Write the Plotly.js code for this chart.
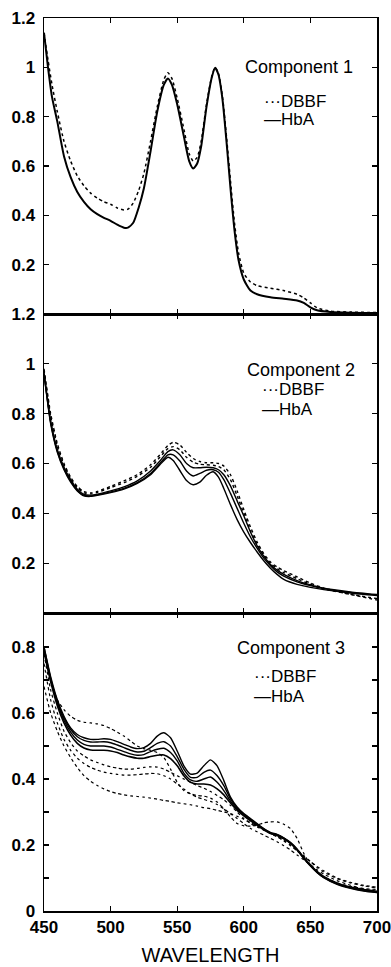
<!DOCTYPE html>
<html>
<head>
<meta charset="utf-8">
<script src="https://cdn.plot.ly/plotly-3.0.1.min.js"></script>
<style>html,body{margin:0;padding:0;background:#fff;}#chart{width:391px;height:967px;}</style>
</head>
<body>
<div id="chart"></div>
<script>
// ---------- Component 1 ----------
const wl1 = [450,453,456,460,465,470,475,480,485,490,495,500,505,510,513,517,521,525,530,535,540,543,546,550,555,559,562,565,568,572,576,578.5,581,584,587,590,593,596,600,605,610,620,630,640,645,650,655,665,680,700];
const c1_hba = [1.14,1.0,0.88,0.78,0.64,0.555,0.495,0.455,0.425,0.405,0.39,0.378,0.362,0.35,0.35,0.37,0.43,0.51,0.66,0.82,0.93,0.955,0.93,0.85,0.72,0.62,0.59,0.61,0.68,0.84,0.96,0.998,0.97,0.87,0.70,0.51,0.34,0.22,0.14,0.095,0.08,0.068,0.062,0.055,0.045,0.027,0.015,0.008,0.005,0.004];
const c1_dbbf = [1.14,1.03,0.93,0.82,0.70,0.62,0.56,0.52,0.49,0.47,0.455,0.445,0.43,0.422,0.425,0.45,0.5,0.57,0.7,0.84,0.95,0.978,0.955,0.875,0.75,0.65,0.62,0.635,0.70,0.85,0.965,1.0,0.975,0.88,0.72,0.54,0.37,0.25,0.165,0.13,0.115,0.105,0.095,0.08,0.065,0.045,0.025,0.012,0.008,0.006];

// ---------- Component 2 ----------
const wl2 = [450,455,460,465,470,475,480,485,490,500,510,520,530,537,543,547,552,557,562,567,572,577,581,585,590,595,600,605,610,615,620,625,630,640,650,660,680,700];
const c2_hba1 = [0.96,0.76,0.645,0.575,0.525,0.49,0.47,0.468,0.472,0.483,0.497,0.52,0.555,0.595,0.625,0.612,0.572,0.532,0.515,0.525,0.553,0.567,0.545,0.5,0.435,0.375,0.325,0.283,0.245,0.21,0.18,0.155,0.135,0.115,0.103,0.094,0.08,0.07];
const c2_hba2 = [0.96,0.765,0.65,0.58,0.53,0.492,0.472,0.47,0.474,0.486,0.5,0.523,0.56,0.6,0.635,0.635,0.61,0.57,0.55,0.56,0.573,0.575,0.565,0.535,0.48,0.42,0.36,0.305,0.26,0.22,0.19,0.165,0.148,0.125,0.11,0.098,0.083,0.072];
const c2_hba3 = [0.965,0.77,0.655,0.585,0.535,0.497,0.476,0.473,0.477,0.49,0.506,0.53,0.57,0.61,0.648,0.655,0.635,0.6,0.583,0.583,0.585,0.583,0.575,0.555,0.51,0.45,0.39,0.325,0.27,0.228,0.195,0.172,0.155,0.13,0.113,0.1,0.085,0.074];
const c2_dbbf1 = [0.98,0.8,0.68,0.6,0.545,0.508,0.487,0.482,0.488,0.508,0.53,0.555,0.595,0.635,0.672,0.685,0.675,0.645,0.62,0.608,0.603,0.603,0.6,0.59,0.555,0.49,0.415,0.345,0.285,0.238,0.205,0.185,0.17,0.145,0.12,0.1,0.075,0.052];
const c2_dbbf2 = [0.975,0.79,0.67,0.595,0.54,0.503,0.482,0.478,0.484,0.503,0.523,0.548,0.585,0.625,0.66,0.668,0.655,0.625,0.605,0.597,0.595,0.593,0.588,0.575,0.535,0.47,0.4,0.33,0.275,0.232,0.2,0.178,0.162,0.138,0.115,0.097,0.075,0.058];

// ---------- Component 3 ----------
const wl3 = [450,455,460,465,470,475,480,485,490,495,500,505,510,515,520,525,530,535,540,545,550,555,560,565,570,575,580,585,590,595,600,605,610,615,620,625,630,635,640,645,650,655,660,670,680,690,700];
const c3_hba1 = [0.8,0.71,0.64,0.59,0.555,0.535,0.525,0.52,0.52,0.522,0.52,0.513,0.505,0.497,0.492,0.495,0.508,0.53,0.54,0.525,0.485,0.44,0.415,0.418,0.44,0.458,0.44,0.395,0.345,0.315,0.295,0.28,0.265,0.25,0.238,0.232,0.222,0.208,0.188,0.163,0.14,0.12,0.105,0.085,0.073,0.065,0.06];
const c3_hba2 = [0.8,0.705,0.635,0.585,0.55,0.528,0.517,0.512,0.512,0.513,0.51,0.503,0.495,0.487,0.482,0.484,0.495,0.508,0.513,0.5,0.468,0.43,0.405,0.405,0.42,0.427,0.41,0.38,0.34,0.312,0.293,0.278,0.263,0.249,0.237,0.231,0.221,0.206,0.186,0.161,0.138,0.118,0.103,0.083,0.071,0.063,0.058];
const c3_hba3 = [0.79,0.7,0.63,0.578,0.542,0.518,0.505,0.5,0.5,0.5,0.497,0.49,0.483,0.476,0.472,0.474,0.483,0.49,0.493,0.48,0.455,0.418,0.397,0.393,0.4,0.406,0.39,0.365,0.333,0.308,0.29,0.275,0.261,0.247,0.236,0.23,0.22,0.206,0.186,0.16,0.137,0.117,0.102,0.082,0.07,0.062,0.057];
const c3_hba4 = [0.785,0.695,0.622,0.57,0.533,0.508,0.494,0.488,0.487,0.487,0.485,0.48,0.473,0.467,0.463,0.463,0.468,0.472,0.473,0.462,0.44,0.41,0.39,0.385,0.385,0.382,0.37,0.352,0.327,0.305,0.288,0.273,0.26,0.246,0.235,0.229,0.219,0.205,0.185,0.16,0.137,0.117,0.101,0.081,0.069,0.061,0.056];
const c3_dbbf1 = [0.8,0.7,0.64,0.61,0.59,0.578,0.572,0.57,0.567,0.562,0.553,0.542,0.53,0.515,0.5,0.492,0.487,0.48,0.465,0.43,0.39,0.365,0.355,0.35,0.348,0.342,0.33,0.31,0.285,0.265,0.258,0.257,0.26,0.267,0.27,0.27,0.263,0.25,0.22,0.175,0.14,0.118,0.103,0.085,0.075,0.068,0.065];
const c3_dbbf2 = [0.78,0.67,0.6,0.545,0.51,0.485,0.47,0.458,0.45,0.443,0.437,0.433,0.43,0.43,0.432,0.435,0.437,0.436,0.43,0.42,0.41,0.4,0.39,0.38,0.372,0.362,0.35,0.337,0.32,0.3,0.28,0.265,0.255,0.245,0.235,0.225,0.215,0.2,0.185,0.168,0.15,0.132,0.118,0.098,0.085,0.076,0.07];
const c3_dbbf3 = [0.75,0.64,0.57,0.52,0.487,0.463,0.447,0.435,0.427,0.421,0.417,0.414,0.412,0.412,0.413,0.415,0.417,0.416,0.41,0.4,0.385,0.37,0.355,0.345,0.338,0.332,0.323,0.31,0.295,0.28,0.265,0.25,0.24,0.23,0.22,0.21,0.198,0.185,0.17,0.155,0.14,0.125,0.112,0.092,0.078,0.066,0.055];
const c3_dbbf4 = [0.68,0.6,0.545,0.5,0.465,0.435,0.41,0.393,0.38,0.37,0.362,0.356,0.352,0.349,0.347,0.345,0.342,0.339,0.335,0.332,0.328,0.325,0.322,0.318,0.313,0.31,0.305,0.3,0.295,0.287,0.278,0.268,0.258,0.247,0.236,0.225,0.212,0.198,0.182,0.165,0.15,0.135,0.122,0.1,0.087,0.078,0.072];

// ---------- tick labels ----------
const xTicks = [450,500,550,600,650,700];
const y12Ticks = [0.2,0.4,0.6,0.8,1,1.2];
const y12Text = ['0.2','0.4','0.6','0.8','1','1.2'];
const y3Ticks = [0,0.2,0.4,0.6,0.8];
const y3Text = ['0','0.2','0.4','0.6','0.8'];

const panelTitles = ['Component 1','Component 2','Component 3'];
const seriesNames = ['DBBF','HbA'];
const xTitle = 'WAVELENGTH';

const FONT = 'Liberation Sans, Arial, Helvetica, sans-serif';

function tr(x, y, xa, ya, dotted, width) {
  return {
    x: x, y: y, xaxis: xa, yaxis: ya, type: 'scatter', mode: 'lines',
    line: {color: '#000', width: width, dash: dotted ? 'dot' : 'solid', shape: 'spline', smoothing: 0.6},
    hoverinfo: 'skip', showlegend: false
  };
}

const data = [
  tr(wl1, c1_dbbf, 'x', 'y', true, 1.5),
  tr(wl1, c1_hba, 'x', 'y', false, 2),
  tr(wl2, c2_dbbf1, 'x2', 'y2', true, 1.4),
  tr(wl2, c2_dbbf2, 'x2', 'y2', true, 1.4),
  tr(wl2, c2_hba1, 'x2', 'y2', false, 1.4),
  tr(wl2, c2_hba2, 'x2', 'y2', false, 1.4),
  tr(wl2, c2_hba3, 'x2', 'y2', false, 1.4),
  tr(wl3, c3_dbbf1, 'x3', 'y3', true, 1.2),
  tr(wl3, c3_dbbf2, 'x3', 'y3', true, 1.2),
  tr(wl3, c3_dbbf3, 'x3', 'y3', true, 1.2),
  tr(wl3, c3_dbbf4, 'x3', 'y3', true, 1.2),
  tr(wl3, c3_hba1, 'x3', 'y3', false, 1.4),
  tr(wl3, c3_hba2, 'x3', 'y3', false, 1.4),
  tr(wl3, c3_hba3, 'x3', 'y3', false, 1.4),
  tr(wl3, c3_hba4, 'x3', 'y3', false, 1.6)
];

const tickFont = {family: FONT, size: 17, color: '#000', weight: 'bold'};

function xax(anchor, labels) {
  const a = {
    anchor: anchor, domain: [0, 1], range: [450, 700],
    tickmode: 'array', tickvals: xTicks, ticktext: xTicks.map(String),
    ticks: 'inside', ticklen: 5, tickwidth: 1.2, tickcolor: '#000',
    showline: true, linecolor: '#000', linewidth: 1.5, mirror: 'ticks',
    showgrid: false, zeroline: false, showticklabels: labels, tickfont: tickFont,
    ticklabeloverflow: 'allow'
  };
  if (labels) {
    a.title = {text: xTitle, font: {family: FONT, size: 20, color: '#000'}, standoff: 12};
  }
  return a;
}
function yax(anchor, dom, range, vals, text, minor) {
  const a = {
    anchor: anchor, domain: dom, range: range,
    tickmode: 'array', tickvals: vals, ticktext: text,
    ticks: 'inside', ticklen: 5, tickwidth: 1.2, tickcolor: '#000',
    showline: true, linecolor: '#000', linewidth: 1.5, mirror: 'ticks',
    showgrid: false, zeroline: false, tickfont: tickFont, ticklabelstandoff: 4
  };
  if (minor) a.minor = {dtick: 0.1, tick0: 0, ticks: 'inside', ticklen: 5, tickcolor: '#000', tickwidth: 1.2, showgrid: false};
  return a;
}

const d3 = [0, 0.3337];
const d2 = [0.3337, 0.6685];
const d1 = [0.6685, 1];

function ann(text, x, y, size) {
  return {text: text, xref: 'paper', yref: 'paper', x: x, y: y, xanchor: 'left', yanchor: 'middle',
    showarrow: false, font: {family: FONT, size: size, color: '#000'}};
}

const layout = {
  width: 391, height: 967,
  margin: {l: 44, r: 14, t: 18, b: 56},
  paper_bgcolor: '#fff', plot_bgcolor: '#fff',
  showlegend: false,
  font: {family: FONT, color: '#000'},
  xaxis: xax('y', false),
  xaxis2: xax('y2', false),
  xaxis3: xax('y3', true),
  yaxis: yax('x', d1, [0, 1.2], y12Ticks, y12Text, false),
  yaxis2: yax('x2', d2, [0, 1.2], y12Ticks, y12Text, false),
  yaxis3: yax('x3', d3, [0, 0.903], y3Ticks, y3Text, true),
  annotations: [
    ann(panelTitles[0], 0.598, 0.9455, 18),
    ann('\u00b7\u00b7\u00b7' + seriesNames[0], 0.654, 0.906, 17),
    ann('\u2014' + seriesNames[1], 0.654, 0.886, 17),
    ann(panelTitles[1], 0.604, 0.6058, 18),
    ann('\u00b7\u00b7\u00b7' + seriesNames[0], 0.648, 0.5842, 17),
    ann('\u2014' + seriesNames[1], 0.648, 0.5618, 17),
    ann(panelTitles[2], 0.574, 0.2948, 18),
    ann('\u00b7\u00b7\u00b7' + seriesNames[0], 0.624, 0.2624, 17),
    ann('\u2014' + seriesNames[1], 0.624, 0.24, 17)
  ]
};

Plotly.newPlot('chart', data, layout, {staticPlot: true, displayModeBar: false});
</script>
</body>
</html>
